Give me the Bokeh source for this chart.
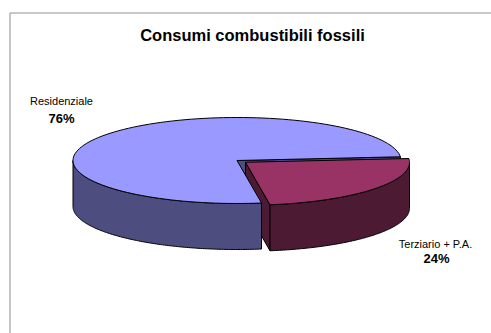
import numpy as np
from bokeh.plotting import figure
from bokeh.models import Range1d, BoxAnnotation
from bokeh.embed import file_html
from bokeh.resources import INLINE
from bokeh.core.properties import value

# ---- data ----
chart_title = "Consumi combustibili fossili"
labels = ["Residenziale", "Terziario + P.A."]
shares = [76, 24]
top_colors = ["#9999FF", "#993366"]
side_colors = ["#4D4D80", "#4D1A33"]
exploded = [False, True]

# ---- layout (pixel space) ----
W, H = 491, 333
CX, CY = 236.5, 160.0        # centre of the pie's top face
RX, RY = 164.0, 43.0         # ellipse radii of the tilted disc
DEPTH = 46.0                 # thickness of the disc
START = 5.0                  # angle (deg, ccw from 3 o'clock) where the first slice begins
EXPLODE = 0.066              # explosion distance as a fraction of the radius
label_pos = [(61, 100), (435, 243)]
pct_pos = [(61, 118), (436, 258)]
FONT = value("Liberation Sans")

p = figure(width=W, height=H, x_range=Range1d(0, W), y_range=Range1d(H, 0),
           output_backend="svg", toolbar_location=None, min_border=0,
           x_axis_location=None, y_axis_location=None)
p.grid.visible = False
p.outline_line_color = None
p.background_fill_color = "white"
p.border_fill_color = "white"

# chart-area frame
p.add_layout(BoxAnnotation(left=9.5, top=12.5, right=W + 10, bottom=H + 10,
                           fill_alpha=0, line_color="#111111", line_width=1.6))


def rim(cx, cy, a0, a1, n=120, dz=0.0):
    a = np.radians(np.linspace(a0, a1, n))
    return cx + RX * np.cos(a), cy - RY * np.sin(a) + dz


def pt(cx, cy, a, dz=0.0):
    r = np.radians(a)
    return cx + RX * np.cos(r), cy - RY * np.sin(r) + dz


# slice angle ranges (counter-clockwise) and centres
total = float(sum(shares))
slices = []
a = START
for i, s in enumerate(shares):
    span = 360.0 * s / total
    a0, a1 = a, a + span
    mid = np.radians((a0 + a1) / 2)
    e = EXPLODE if exploded[i] else 0.0
    cx = CX + e * RX * np.cos(mid)
    cy = CY - e * RY * np.sin(mid)
    slices.append((a0, a1, cx, cy))
    a = a1

faces_x, faces_y, faces_c = [], [], []
# radial cut faces that look toward the viewer
for i, (a0, a1, cx, cy) in enumerate(slices):
    for ang, visible in ((a0, np.cos(np.radians(a0)) > 0), (a1, np.cos(np.radians(a1)) < 0)):
        if not visible:
            continue
        px, py = pt(cx, cy, ang)
        faces_x.append([cx, px, px, cx])
        faces_y.append([cy, py, py + DEPTH, cy + DEPTH])
        faces_c.append(side_colors[i])

p.patches(faces_x, faces_y, fill_color=faces_c, line_color="black", line_width=1)

# outer walls and top faces, slice by slice
for i, (a0, a1, cx, cy) in enumerate(slices):
    xs_side, ys_side = [], []
    for lo, hi in ((-180, 0), (180, 360), (540, 720)):
        s0, s1 = max(a0, lo), min(a1, hi)
        if s1 <= s0:
            continue
        tx, ty = rim(cx, cy, s0, s1)
        bx, by = rim(cx, cy, s1, s0, dz=DEPTH)
        xs_side.append(list(np.concatenate([tx, bx])))
        ys_side.append(list(np.concatenate([ty, by])))
    if xs_side:
        p.patches(xs_side, ys_side, fill_color=side_colors[i], line_color="black", line_width=1)
    tx, ty = rim(cx, cy, a0, a1)
    p.patch(list(np.concatenate([[cx], tx])), list(np.concatenate([[cy], ty])),
            fill_color=top_colors[i], line_color="black", line_width=1)

# title and labels
p.text(x=[252], y=[34], text=[chart_title], text_font=FONT, text_font_size="16.5px",
       text_font_style="bold", text_align="center", text_baseline="middle", text_color="black")
p.text(x=[q[0] for q in label_pos], y=[q[1] for q in label_pos], text=labels,
       text_font=FONT, text_font_size="11px", text_align="center", text_baseline="middle",
       text_color="black")
p.text(x=[q[0] for q in pct_pos], y=[q[1] for q in pct_pos], text=[f"{s}%" for s in shares],
       text_font=FONT, text_font_size="13px", text_font_style="bold", text_align="center",
       text_baseline="middle", text_color="black")

open("out.html", "w").write(file_html(p, INLINE))
